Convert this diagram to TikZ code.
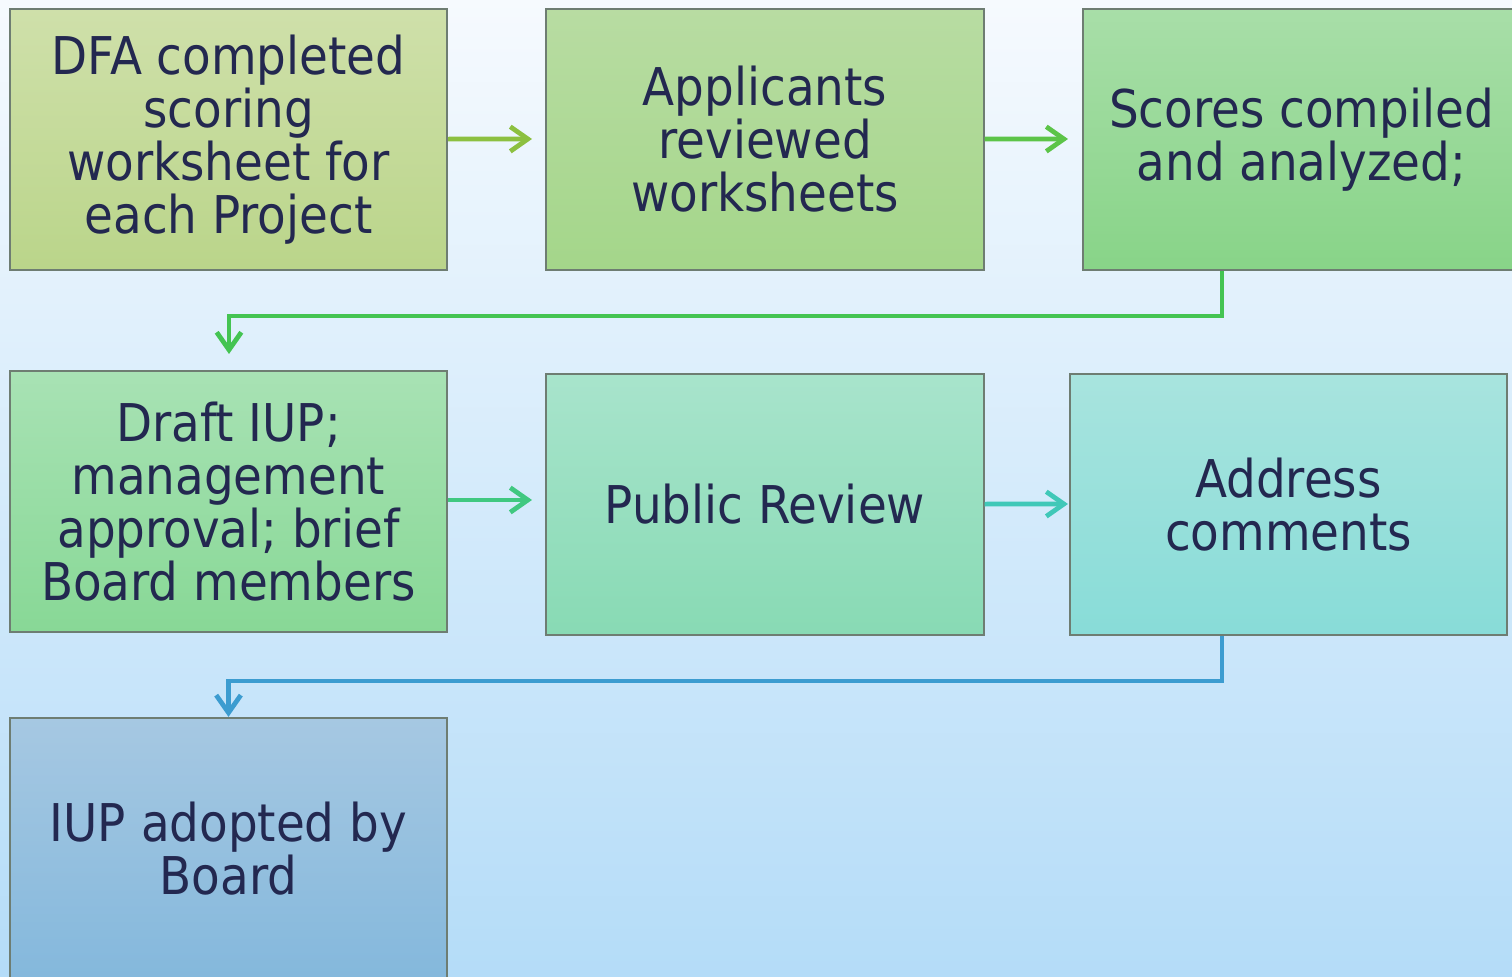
\documentclass[tikz,border=0pt]{standalone}
\usepackage{fontspec}
\setmainfont{DejaVu Sans Condensed}
\usetikzlibrary{arrows.meta}

\definecolor{textnavy}{HTML}{232850}
\definecolor{boxline}{HTML}{6E7D72}
\definecolor{bgtop}{HTML}{F6FAFE}
\definecolor{bgbot}{HTML}{B4DCF8}

\definecolor{dfatop}{HTML}{CFE0AA}      \definecolor{dfabot}{HTML}{BAD58A}
\definecolor{reviewtop}{HTML}{B8DCA2}   \definecolor{reviewbot}{HTML}{A4D68A}
\definecolor{scorestop}{HTML}{A8DEA8}   \definecolor{scoresbot}{HTML}{88D488}
\definecolor{drafttop}{HTML}{A8E2B4}    \definecolor{draftbot}{HTML}{88D896}
\definecolor{publictop}{HTML}{A8E4CC}   \definecolor{publicbot}{HTML}{88DAB4}
\definecolor{commentstop}{HTML}{A8E4DE} \definecolor{commentsbot}{HTML}{88DCD8}
\definecolor{adoptedtop}{HTML}{A6C8E2}  \definecolor{adoptedbot}{HTML}{84B8DC}

\definecolor{edgeA}{HTML}{8CC040}
\definecolor{edgeB}{HTML}{5CC448}
\definecolor{edgeC}{HTML}{44C452}
\definecolor{edgeD}{HTML}{40C880}
\definecolor{edgeE}{HTML}{40C8B8}
\definecolor{edgeF}{HTML}{3C9CD0}

\begin{document}
\begin{tikzpicture}[x=0.01cm, y=-0.01cm]
    \useasboundingbox (0,0) rectangle (1512,977);
    \shade[top color=bgtop, bottom color=bgbot] (0,0) rectangle (1512,977);

    \tikzset{BoxStyle/.style={draw=boxline, line width=0.6pt, inner sep=0pt,
        minimum width=4.37cm, minimum height=2.61cm, align=center,
        text=textnavy, font=\fontsize{14.8}{15.1}\selectfont}}
    \tikzset{EdgeStyle/.style={-{Straight Barb[length=5pt, width=7pt]}, line width=1.35pt}}

    % first row
    \node[BoxStyle, top color=dfatop, bottom color=dfabot]
        (dfa) at (228.5,139.5) {DFA completed\\scoring\\worksheet for\\each Project};
    \node[BoxStyle, top color=reviewtop, bottom color=reviewbot]
        (review) at (765,139.5) {Applicants\\reviewed\\worksheets};
    \node[BoxStyle, top color=scorestop, bottom color=scoresbot]
        (scores) at (1301.5,139.5) {Scores compiled\\and analyzed;};

    % second row
    \node[BoxStyle, top color=drafttop, bottom color=draftbot]
        (draft) at (228.5,501.5) {Draft IUP;\\management\\approval; brief\\Board members};
    \node[BoxStyle, top color=publictop, bottom color=publicbot]
        (public) at (765,504.5) {Public Review};
    \node[BoxStyle, top color=commentstop, bottom color=commentsbot]
        (comments) at (1288.5,504.5) {Address\\comments};

    % last row
    \node[BoxStyle, top color=adoptedtop, bottom color=adoptedbot]
        (adopted) at (228.5,848.5) {IUP adopted by\\Board};

    \coordinate (tipA) at (532,139);
    \coordinate (tipB) at (1068,139);
    \coordinate (bendC) at (1222,316);
    \coordinate (tipC) at (229,354);
    \coordinate (tipD) at (532,500);
    \coordinate (tipE) at (1068,504);
    \coordinate (bendF) at (1222,681);

    \draw[EdgeStyle, edgeA] (dfa) -- (tipA);
    \draw[EdgeStyle, edgeB] (review) -- (tipB);
    \draw[EdgeStyle, edgeC] (scores.south -| bendC) -- (bendC) -| (tipC);
    \draw[EdgeStyle, edgeD] (draft.east |- tipD) -- (tipD);
    \draw[EdgeStyle, edgeE] (public) -- (tipE);
    \draw[EdgeStyle, edgeF] (comments.south -| bendF) -- (bendF) -| (adopted.north);
\end{tikzpicture}
\end{document}
